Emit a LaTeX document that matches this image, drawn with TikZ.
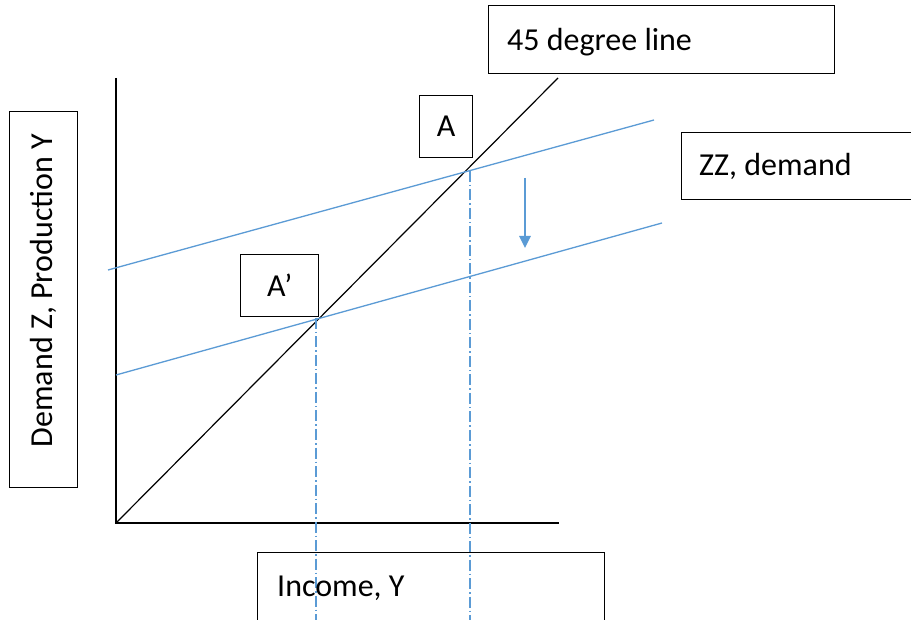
\documentclass[tikz,border=0pt]{standalone}
\usepackage{fontspec}
\setmainfont{Carlito}
\usetikzlibrary{arrows.meta}
\definecolor{zzblue}{RGB}{91,155,213}
\begin{document}
\begin{tikzpicture}[x=1pt,y=-1pt,
  box/.style={draw=black, line width=1.3pt, inner sep=0pt, font=\fontsize{32}{38}\selectfont},
  lab/.style={inner sep=0pt, font=\fontsize{32}{38}\selectfont},
  axis/.style={draw=black, line width=2pt},
  diag/.style={draw=black, line width=1.2pt},
  zz/.style={draw=zzblue, line width=1.3pt},
  guide/.style={draw=zzblue, line width=1.1pt, dash pattern=on 11pt off 3pt on 1.5pt off 3pt},
  shiftarrow/.style={draw=zzblue, line width=2.6pt, -{Triangle[length=12pt,width=11pt]}}]
\clip (0,0) rectangle (911,620);
\fill[white] (0,0) rectangle (911,620);
% axes
\coordinate (O) at (116,523);
\coordinate (Ytop) at (116,78);
\coordinate (Xend) at (559,523);
\draw[axis] (Ytop) -- (O) -- (Xend);
% 45 degree line
\coordinate (Dend) at (558,78);
\draw[diag] (O) -- (Dend);
% demand lines
\coordinate (Z1a) at (108,270);
\coordinate (Z1b) at (654,120);
\coordinate (Z2a) at (116,375);
\coordinate (Z2b) at (662,223);
\draw[zz] (Z1a) -- (Z1b);
\draw[zz] (Z2a) -- (Z2b);
% guide lines
\coordinate (EA) at (470,171);
\coordinate (EAb) at (470,625);
\coordinate (EB) at (316,318);
\coordinate (EBb) at (316,625);
\draw[guide] (EA) -- (EAb);
\draw[guide] (EB) -- (EBb);
% shift arrow
\coordinate (Ar1) at (525,178);
\coordinate (Ar2) at (525,248);
\draw[shiftarrow] (Ar1) -- (Ar2);
% boxes
\node[box, fill=white, anchor=north west, minimum width=68pt, minimum height=376pt] (ylab) at (9,111) {};
\node[lab, rotate=90] (ylabtxt) at ([yshift=9pt]ylab.center) {Demand Z, Production Y};
\node[box, fill=white, anchor=north west, minimum width=346pt, minimum height=68pt] (deg) at (488,5) {};
\node[lab, anchor=west] (degtxt) at ([xshift=19pt,yshift=-2pt]deg.west) {45 degree line};
\node[box, fill=white, anchor=north west, minimum width=260pt, minimum height=67pt] (zzb) at (681,132) {};
\node[lab, anchor=west] (zztxt) at ([xshift=18pt]zzb.west) {ZZ, demand};
\node[box, anchor=north west, minimum width=347pt, minimum height=90pt] (inc) at (257,552) {};
\node[lab, anchor=west] (inctxt) at (277,588) {Income, Y};
\node[box, fill=white, anchor=north west, minimum width=53pt, minimum height=62pt] (A) at (419,95) {A};
\node[box, fill=white, anchor=north west, minimum width=78pt, minimum height=62pt] (Ap) at (240,254) {A’};
\end{tikzpicture}
\end{document}
